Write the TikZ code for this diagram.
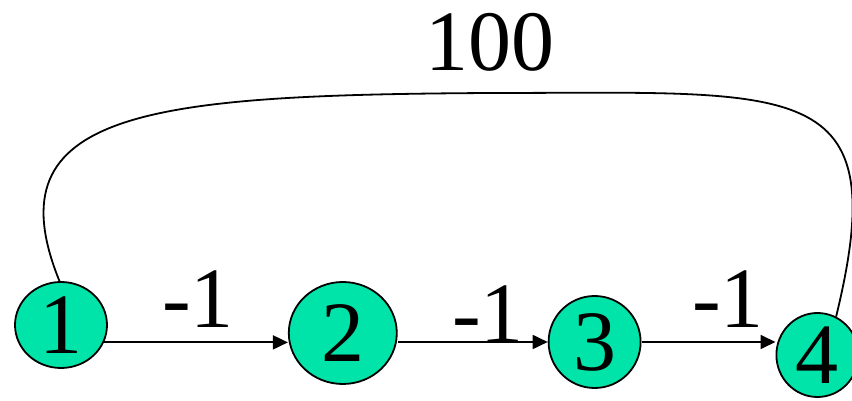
\documentclass[tikz,border=0pt]{standalone}
\usepackage{fontspec}
\setmainfont{Liberation Serif}
\usetikzlibrary{arrows.meta, shapes.geometric, positioning}
\definecolor{vertgreen}{RGB}{0,228,170}

\begin{document}
\begin{tikzpicture}[
    x=1pt, y=1pt,
    vert/.style={
      ellipse, draw=black, line width=1.8pt,
      fill=vertgreen, inner sep=0pt,
      font=\fontsize{86}{90}\selectfont
    },
    wlabel/.style={
      anchor=base, inner sep=0pt,
      font=\fontsize{86}{90}\selectfont
    },
    edgearr/.style={
      -{Triangle[length=15pt, width=14pt]}, line width=1.8pt
    },
    looparr/.style={
      line width=1.8pt
    }
  ]

  \useasboundingbox (0,0) rectangle (852,401);

  % ---- Vertices ----
  \node[vert, minimum width=92pt, minimum height=86pt] (n1) at (61,76) {1};
  \node[vert, minimum width=108pt, minimum height=102pt,
        right=180pt of n1, yshift=-8pt] (n2) {2};
  \node[vert, minimum width=92pt, minimum height=92pt,
        right=150pt of n2, yshift=-9pt] (n3) {3};
  \node[vert, minimum width=82pt, minimum height=84pt,
        right=134pt of n3, yshift=-13pt] (n4) {4};

  % ---- Edges along the chain ----
  \draw[edgearr] (n1.-22) -- (n1.-22 -| n2.west);
  \draw[edgearr] (n2.east |- n3.west) -- (n3.west);
  \draw[edgearr] (n3.east) -- (n3.east -| n4.west);

  % ---- Long edge over the top ----
  \coordinate (top) at (490,308);
  \draw[looparr] (n1.92) .. controls (-10,291) and (150,306) .. (top)
                         .. controls (800,308) and (895,326) .. (n4.64);

  % ---- Weights ----
  \node[wlabel] (w12) at (198,73) {-1};
  \node[wlabel] (w23) at (488,58) {-1};
  \node[wlabel] (w34) at (728,73) {-1};
  \node[wlabel] (w14) at (490,330) {100};

\end{tikzpicture}
\end{document}
